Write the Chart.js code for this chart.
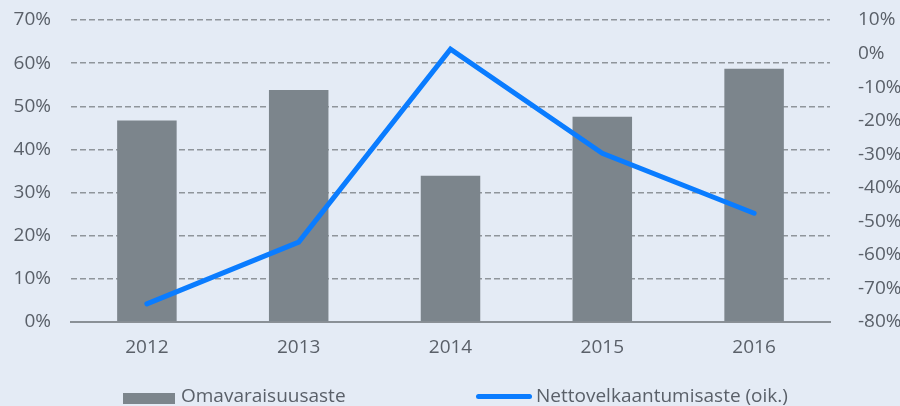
<!DOCTYPE html>
<html>
<head>
<meta charset="utf-8">
<script src="https://cdn.jsdelivr.net/npm/chart.js@4"></script>
<style>
  html, body { margin: 0; padding: 0; background: #e4ebf5; }
  #wrap { position: relative; width: 900px; height: 406px; }
  #legend { position: absolute; left: 0; top: 383px; width: 900px; height: 24px;
    font-family: "Open Sans", sans-serif; font-size: 19px; color: #5a6069; }
  .item { position: absolute; top: 0; display: flex; align-items: center; white-space: nowrap; line-height: 24px; }
  .box { width: 52px; height: 11px; background: #7c858c; margin-right: 6px; margin-top: 6px; }
  .ln { width: 56px; height: 5px; border-radius: 3px; background: #0a7cff; margin-right: 4px; margin-top: 2px; }
</style>
</head>
<body>
<div id="wrap">
  <canvas id="chart" width="900" height="406"></canvas>
  <div id="legend">
    <div class="item" style="left:123px"><div class="box"></div><span>Omavaraisuusaste</span></div>
    <div class="item" style="left:476px"><div class="ln"></div><span>Nettovelkaantumisaste (oik.)</span></div>
  </div>
</div>
<script>
const years = ["2012", "2013", "2014", "2015", "2016"];
const omavaraisuus = [46.7, 53.8, 33.9, 47.6, 58.7];
const nettovelka = [-74.6, -56.2, 1.3, -29.7, -47.6];
const seriesNames = ["Omavaraisuusaste", "Nettovelkaantumisaste (oik.)"];

const textColor = "#5a6069";
const font = { family: "'Open Sans', sans-serif", size: 19 };

// keep the plot area where the reference has it (top edge at 70% / 10% labels)
function fixY(width) {
  return s => { s.width = width; s.paddingTop = 0; s.paddingBottom = 0; };
}

new Chart(document.getElementById("chart"), {
  data: {
    labels: years,
    datasets: [
      {
        type: "line",
        label: seriesNames[1],
        data: nettovelka,
        yAxisID: "y2",
        borderColor: "#0a7cff",
        borderWidth: 5,
        borderCapStyle: "round",
        borderJoinStyle: "miter",
        pointRadius: 0,
        tension: 0,
        order: 0
      },
      {
        type: "bar",
        label: seriesNames[0],
        data: omavaraisuus,
        yAxisID: "y",
        backgroundColor: "#7c858c",
        categoryPercentage: 0.8,
        barPercentage: 0.49,
        order: 1
      }
    ]
  },
  options: {
    responsive: false,
    animation: false,
    layout: { padding: { top: 20, bottom: 0, left: 0, right: 0 } },
    plugins: { legend: { display: false }, tooltip: { enabled: false } },
    scales: {
      x: {
        grid: { display: false },
        border: { display: true, color: "#8a9096", width: 2 },
        ticks: { color: textColor, font: font, padding: 6 },
        afterFit: s => { s.height = 84; s.paddingLeft = 0; s.paddingRight = 0; }
      },
      y: {
        position: "left",
        min: 0, max: 70,
        ticks: { stepSize: 10, color: textColor, font: font, padding: 20,
          callback: v => v + "%" },
        grid: { color: "#8f959b", lineWidth: 1.5, drawTicks: false },
        border: { display: false, dash: [6, 3] },
        afterFit: fixY(71)
      },
      y2: {
        position: "right",
        min: -80, max: 10,
        ticks: { stepSize: 10, color: textColor, font: font, padding: 20,
          callback: v => v + "%" },
        grid: { display: false },
        border: { display: false },
        afterFit: fixY(70)
      }
    }
  }
});
</script>
</body>
</html>
